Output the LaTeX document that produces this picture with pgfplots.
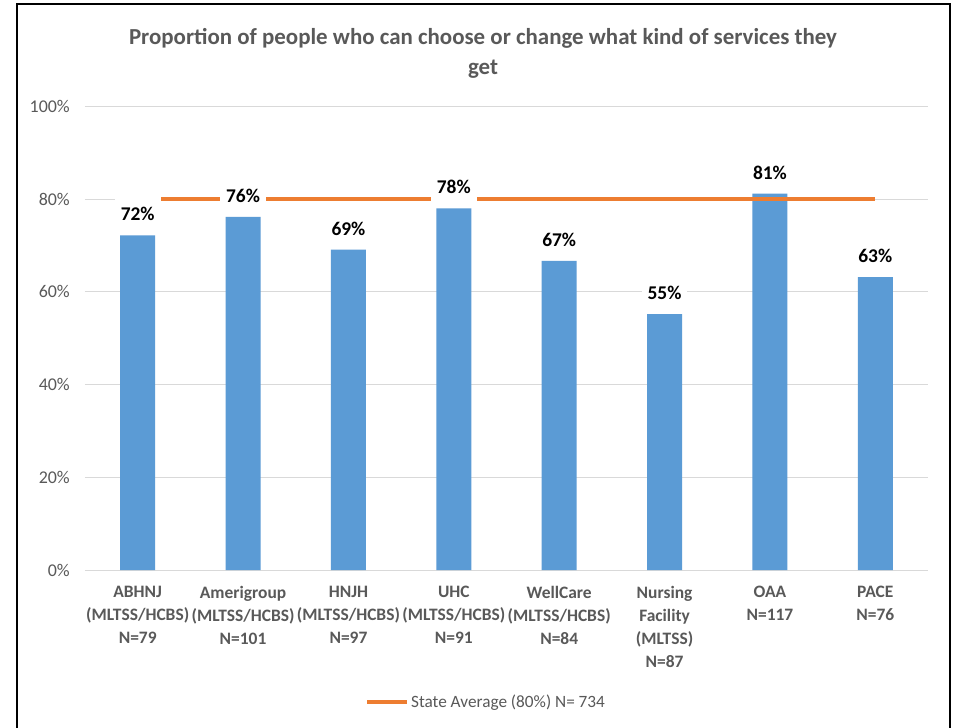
\documentclass[border=0pt]{standalone}
\usepackage{pgfplots}
\pgfplotsset{compat=1.18}
\usepackage{fontspec}
\setmainfont{Carlito}
\definecolor{barblue}{HTML}{5B9BD5}
\definecolor{avgorange}{HTML}{ED7D31}
\definecolor{gridgray}{HTML}{D9D9D9}
\definecolor{txtgray}{HTML}{595959}

\begin{document}
\begin{tikzpicture}
\useasboundingbox (-85bp,-158bp) rectangle (874bp,570bp);
\fill[white] (-85bp,-158bp) rectangle (874bp,570bp);
\draw[black, line width=2bp] (-68bp,566bp) rectangle (865bp,-170bp);
\begin{axis}[
  at={(0,0)}, anchor=south west,
  width=843bp, height=463.5bp, scale only axis,
  xmin=-0.5, xmax=7.5, ymin=0, ymax=100,
  xtick={0,...,7},
  xticklabels={{ABHNJ\\(MLTSS/HCBS)\\N=79},{Amerigroup\\(MLTSS/HCBS)\\N=101},{HNJH\\(MLTSS/HCBS)\\N=97},{UHC\\(MLTSS/HCBS)\\N=91},{WellCare\\(MLTSS/HCBS)\\N=84},{Nursing\\Facility\\(MLTSS)\\N=87},{OAA\\N=117},{PACE\\N=76}},
  ytick={0,20,...,100},
  yticklabel={\pgfmathprintnumber{\tick}\%},
  ymajorgrids, grid style={gridgray, line width=1bp},
  axis line style={draw=none},
  major tick length=0pt,
  tick label style={font=\fontsize{18}{22}\selectfont, text=txtgray},
  x tick label style={align=center, font=\bfseries\fontsize{17.5}{23}\selectfont, inner sep=0pt, yshift=-16bp},
  y tick label style={inner sep=0pt, xshift=-15bp},
  /pgf/number format/assume math mode=true,
  legend style={at={(0.476,-0.285)}, anchor=center, draw=none, fill=none,
    font=\fontsize{17.3}{20}\selectfont, text=txtgray},
  legend image code/.code={\draw[avgorange, line width=3.5bp] (0bp,0bp) -- (40bp,0bp);},
  clip=false,
]
% bars
\addplot[ybar, bar width=35bp, fill=barblue, draw=none, forget plot] coordinates {
  (0,72.2) (1,76.2) (2,69.1) (3,78.0) (4,66.7) (5,55.2) (6,81.2) (7,63.2)};
% state average
\addplot[avgorange, line width=3.5bp, no markers] coordinates {(0,80) (7,80)};
\addlegendentry{State Average (80\%) N= 734}
% value labels on top of the line
\addplot[draw=none, no markers, forget plot,
  nodes near coords={\pgfmathprintnumber[fixed,precision=0]{\pgfplotspointmeta}\%},
  nodes near coords style={fill=white, font=\bfseries\fontsize{19.5}{22}\selectfont,
    text=black, anchor=center, yshift=21bp, inner xsep=6bp, inner ysep=0pt,
    text height=24.5bp, text depth=11.5bp}]
  coordinates {
  (0,72.2) (1,76.2) (2,69.1) (3,78.0) (4,66.7) (5,55.2) (6,81.2) (7,63.2)};
\end{axis}
\node[align=center, font=\bfseries\fontsize{23}{30}\selectfont, text=txtgray]
  at (398bp,517bp) {Proportion of people who can choose or change what kind of services they\\get};
\end{tikzpicture}
\end{document}
